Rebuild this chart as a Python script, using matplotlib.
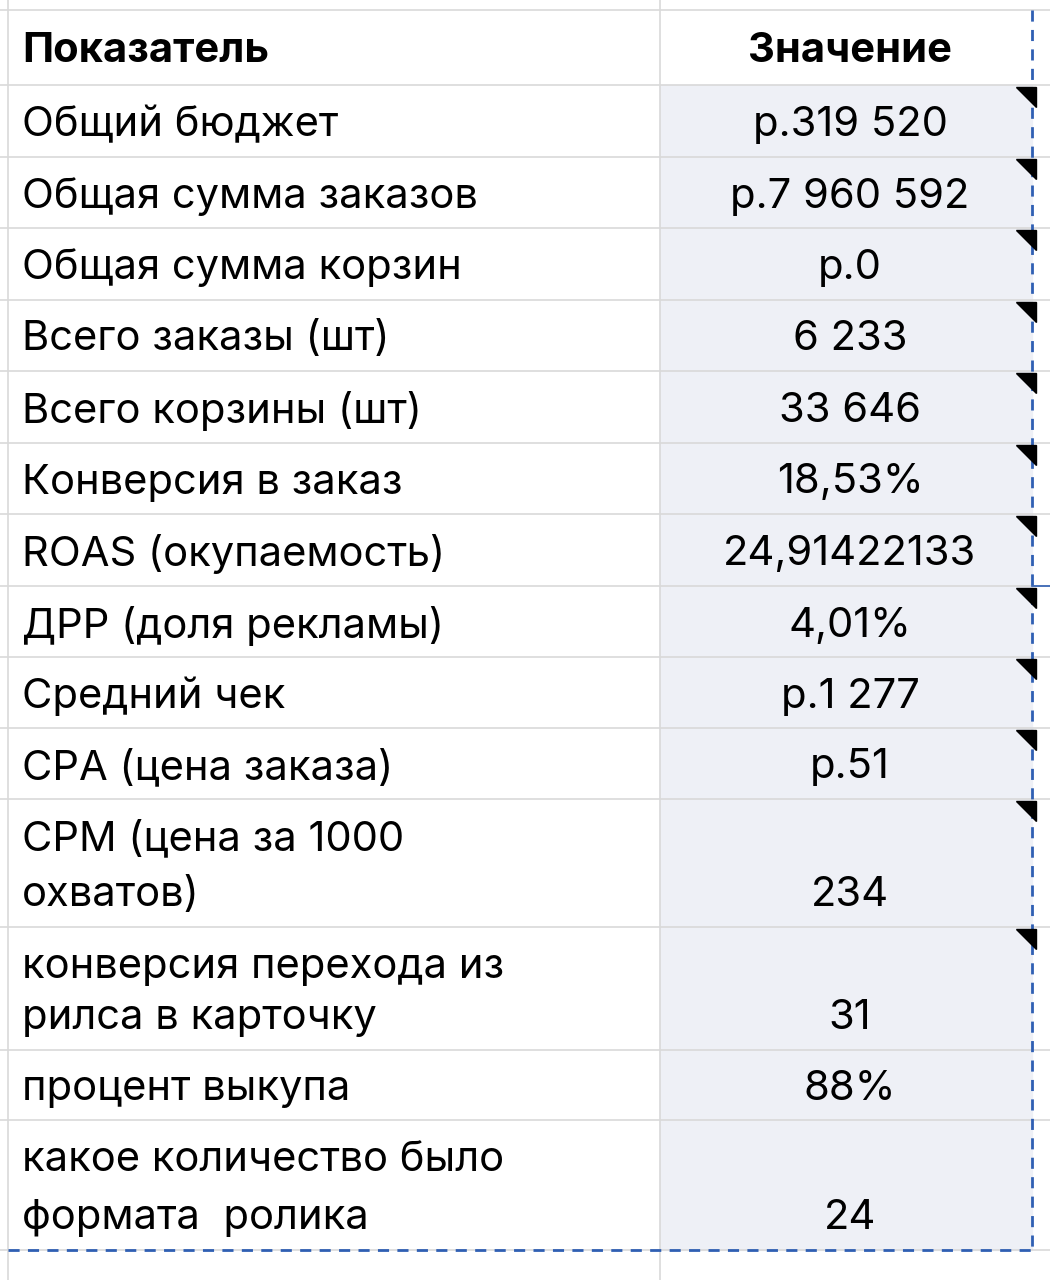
import matplotlib
matplotlib.use("Agg")
import matplotlib.pyplot as plt
from matplotlib.patches import Rectangle, Polygon

header = ["Показатель", "Значение"]
labels = ["Общий бюджет", "Общая сумма заказов", "Общая сумма корзин",
          "Всего заказы (шт)", "Всего корзины (шт)", "Конверсия в заказ",
          "ROAS (окупаемость)", "ДРР (доля рекламы)", "Средний чек",
          "CPA (цена заказа)", "CPM (цена за 1000\nохватов)",
          "конверсия перехода из\nрилса в карточку", "процент выкупа",
          "какое количество было\nформата  ролика"]
values = ["р.319 520", "р.7 960 592", "р.0", "6 233", "33 646", "18,53%",
          "24,91422133", "4,01%", "р.1 277", "р.51", "234", "31", "88%", "24"]
has_note = [True]*12 + [False, False]

bounds = [10, 85, 157, 228, 300, 371, 443, 514, 586, 657, 728, 799, 927, 1050, 1120, 1250]

fig = plt.figure(figsize=(10.5, 12.8), dpi=100)
ax = fig.add_axes([0, 0, 1, 1])
ax.set_xlim(0, 1050); ax.set_ylim(1280, 0); ax.axis("off")
fam = ["Inter", "DejaVu Sans"]
grid = "#d9d9d9"

ax.add_patch(Rectangle((660, bounds[1]), 372, bounds[-1]-bounds[1], color="#eef0f6", zorder=0))
for y in bounds:
    ax.plot([0, 1050], [y, y], color=grid, lw=1.2, zorder=1)
for x in [8, 660]:
    ax.plot([x, x], [0, 1280], color=grid, lw=1.2, zorder=1)
ax.plot([1032, 1032], [10, 1250], color="#2f5fb3", lw=2, ls=(0, (4, 3)), zorder=3)
ax.plot([8, 1032], [1250, 1250], color="#2f5fb3", lw=2, ls=(0, (4, 3)), zorder=3)
ax.plot([1032, 1050], [586, 586], color="#2f5fb3", lw=1.2, zorder=3)

fs = 30
ax.text(22, (bounds[0]+bounds[1])/2+4, header[0], fontsize=fs, fontweight="bold", family=fam, va="center")
ax.text(850, (bounds[0]+bounds[1])/2+4, header[1], fontsize=fs, fontweight="bold", family=fam, va="center", ha="center")

for i, (lab, val) in enumerate(zip(labels, values)):
    top, bot = bounds[i+1], bounds[i+2]
    if "\n" in lab:
        l1, l2 = lab.split("\n")
        ax.text(22, top+40, l1, fontsize=fs, family=fam, va="center")
        ax.text(22, bot-32, l2, fontsize=fs, family=fam, va="center")
        ax.text(850, bot-32, val, fontsize=fs, family=fam, va="center", ha="center")
    else:
        c = (top+bot)/2+4
        ax.text(22, c, lab, fontsize=fs, family=fam, va="center")
        ax.text(850, c, val, fontsize=fs, family=fam, va="center", ha="center")
    if has_note[i]:
        ax.add_patch(Polygon([[1016, top+2], [1036, top+2], [1036, top+22]], color="black", zorder=4))

fig.savefig("out.png", dpi=100)
